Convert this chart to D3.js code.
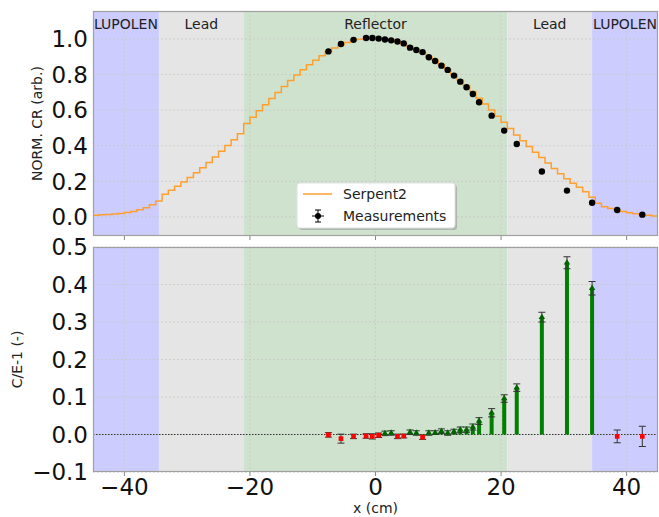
<!DOCTYPE html>
<html>
<head>
<meta charset="utf-8">
<script src="https://cdn.jsdelivr.net/npm/d3@7"></script>
<style>
  body { margin: 0; background: #fff; }
  svg text { font-family: "DejaVu Sans", sans-serif; }
</style>
</head>
<body>
<div id="chart"></div>
<script>
// region spans (cm)
var regions = [
  { name: "LUPOLEN",   x0: -45,   x1: -34.5, color: "#ccccff" },
  { name: "Lead",      x0: -34.5, x1: -21,   color: "#e5e5e5" },
  { name: "Reflector", x0: -21,   x1: 21,    color: "#cfe2cd" },
  { name: "Lead",      x0: 21,    x1: 34.5,  color: "#e5e5e5" },
  { name: "LUPOLEN",   x0: 34.5,  x1: 45,    color: "#ccccff" }
]

// Serpent2 detector bins: left edges (1 cm wide) and values
var binWidth = 1
var serpentEdges = d3.range(-45, 45, binWidth)
var serpentValues = [
  0.010, 0.012, 0.014, 0.016, 0.020, 0.025, 0.031, 0.040, 0.052, 0.068,
  0.090, 0.128, 0.150, 0.173, 0.197, 0.222, 0.248, 0.276, 0.306, 0.337,
  0.369, 0.401, 0.434, 0.467, 0.525, 0.560, 0.596, 0.631, 0.665, 0.699,
  0.733, 0.766, 0.797, 0.827, 0.855, 0.881, 0.905, 0.928, 0.949, 0.966,
  0.980, 0.991, 0.998, 1.002, 1.002, 1.000, 0.998, 0.994, 0.984, 0.972,
  0.957, 0.942, 0.921, 0.901, 0.880, 0.857, 0.830, 0.801, 0.770, 0.738,
  0.705, 0.667, 0.635, 0.601, 0.566, 0.532, 0.497, 0.461, 0.428, 0.396,
  0.364, 0.334, 0.303, 0.272, 0.243, 0.215, 0.190, 0.167, 0.142, 0.111,
  0.077, 0.058, 0.047, 0.039, 0.031, 0.024, 0.018, 0.013, 0.009, 0.006
]

// measurement positions (cm)
var measX = [-7.5, -5.5, -3.5, -1.5, -0.5, 0.5, 1.5, 2.5, 3.5, 4.5,
  5.5, 6.5, 7.5, 8.5, 9.5, 10.5, 11.5, 12.5, 13.5, 14.5,
  15.5, 16.5, 18.5, 20.5, 22.5, 26.5, 30.5, 34.5, 38.5, 42.5]
var measValues = [0.930, 0.972, 0.995, 1.005, 1.005, 1.002, 0.997, 0.992, 0.986, 0.975,
  0.951, 0.938, 0.926, 0.897, 0.876, 0.850, 0.826, 0.794, 0.760, 0.729,
  0.691, 0.644, 0.569, 0.485, 0.410, 0.255, 0.148, 0.080, 0.039, 0.013]
var measXErr = 0.4
var measYErr = 0.012

// C/E - 1 and its uncertainty
var ceValues = [-0.001, -0.011, -0.005, -0.004, -0.005, -0.002, 0.003, 0.004, -0.005, -0.004,
  0.006, 0.004, -0.007, 0.004, 0.005, 0.009, 0.004, 0.008, 0.013, 0.013,
  0.020, 0.036, 0.058, 0.096, 0.125, 0.313, 0.458, 0.390, -0.005, -0.005]
var ceErrors = [0.006, 0.012, 0.006, 0.006, 0.007, 0.006, 0.006, 0.006, 0.006, 0.005,
  0.006, 0.006, 0.006, 0.006, 0.005, 0.006, 0.006, 0.006, 0.007, 0.007,
  0.008, 0.009, 0.011, 0.010, 0.010, 0.013, 0.016, 0.018, 0.017, 0.027]

var xTicks = [-40, -20, 0, 20, 40]
var topTicks = [0.0, 0.2, 0.4, 0.6, 0.8, 1.0]
var bottomTicks = [-0.1, 0.0, 0.1, 0.2, 0.3, 0.4, 0.5]

var width = 659, height = 517
var plotLeft = 93, plotRight = 658

var svg = d3.select("#chart").append("svg")
    .attr("width", width)
    .attr("height", height)

var x = d3.scaleLinear().domain([-45, 45]).range([plotLeft, plotRight])
var yTop = d3.scaleLinear().domain([-0.107, 1.157]).range([236, 11])
var yBot = d3.scaleLinear().domain([-0.1, 0.5]).range([472, 247])

function panel(id, y, ticks, label, labelX) {
  var top = y.range()[1], bottom = y.range()[0]
  var g = svg.append("g")

  svg.append("clipPath").attr("id", id)
    .append("rect")
    .attr("x", plotLeft).attr("y", top)
    .attr("width", plotRight - plotLeft).attr("height", bottom - top)

  // background spans
  g.selectAll(".span")
    .data(regions)
    .enter().append("rect")
    .attr("x", function(d) { return x(d.x0) })
    .attr("width", function(d) { return x(d.x1) - x(d.x0) })
    .attr("y", top)
    .attr("height", bottom - top)
    .attr("fill", function(d) { return d.color })

  // grid
  g.selectAll(".hgrid")
    .data(ticks)
    .enter().append("line")
    .attr("x1", plotLeft).attr("x2", plotRight)
    .attr("y1", function(d) { return y(d) }).attr("y2", function(d) { return y(d) })
    .attr("stroke", "#c8c8c8").attr("stroke-width", 0.8)
    .attr("stroke-dasharray", "2,2")
  g.selectAll(".vgrid")
    .data(xTicks)
    .enter().append("line")
    .attr("x1", function(d) { return x(d) }).attr("x2", function(d) { return x(d) })
    .attr("y1", top).attr("y2", bottom)
    .attr("stroke", "#c8c8c8").attr("stroke-width", 0.8)
    .attr("stroke-dasharray", "2,2")

  // y tick labels
  g.selectAll(".ylab")
    .data(ticks)
    .enter().append("text")
    .attr("x", 88)
    .attr("y", function(d) { return y(d) })
    .attr("dy", "0.36em")
    .attr("text-anchor", "end")
    .attr("font-size", 23)
    .attr("fill", "#111")
    .text(d3.format(".1f"))

  // x tick marks
  g.selectAll(".xtick")
    .data(xTicks)
    .enter().append("line")
    .attr("x1", function(d) { return x(d) }).attr("x2", function(d) { return x(d) })
    .attr("y1", bottom).attr("y2", bottom + 4)
    .attr("stroke", "#888").attr("stroke-width", 1)

  // y axis label
  svg.append("text")
    .attr("transform", "translate(" + labelX + "," + ((top + bottom) / 2) + ") rotate(-90)")
    .attr("text-anchor", "middle")
    .attr("dy", "0.35em")
    .attr("font-size", 14)
    .attr("fill", "#222")
    .text(label)

  return g
}

function frame(y) {
  var top = y.range()[1], bottom = y.range()[0]
  svg.append("rect")
    .attr("x", plotLeft + 0.5).attr("y", top + 0.5)
    .attr("width", plotRight - plotLeft - 1).attr("height", bottom - top - 1)
    .attr("fill", "none")
    .attr("stroke", "#a0a0a0")
    .attr("stroke-width", 1.2)
}

// ---------- top panel ----------
var gTop = panel("clipTop", yTop, topTicks, "NORM. CR (arb.)", 37)

// region names
gTop.selectAll(".rname")
  .data(regions)
  .enter().append("text")
  .attr("x", function(d) { return (x(d.x0) + x(d.x1)) / 2 })
  .attr("y", 29)
  .attr("text-anchor", "middle")
  .attr("font-size", 14)
  .attr("fill", "#222")
  .text(function(d) { return d.name })

var stepPts = serpentEdges.map(function(e, i) { return [e, serpentValues[i]] })
stepPts.push([serpentEdges[serpentEdges.length - 1] + binWidth, serpentValues[serpentValues.length - 1]])

var stepLine = d3.line()
  .x(function(d) { return x(d[0]) })
  .y(function(d) { return yTop(d[1]) })
  .curve(d3.curveStepAfter)

gTop.append("path")
  .datum(stepPts)
  .attr("clip-path", "url(#clipTop)")
  .attr("d", stepLine)
  .attr("fill", "none")
  .attr("stroke", "#ff9f2e")
  .attr("stroke-width", 1.5)

var meas = measX.map(function(d, i) { return { x: d, v: measValues[i], r: ceValues[i], e: ceErrors[i] } })

var mg = gTop.selectAll(".meas")
  .data(meas)
  .enter().append("g")
mg.append("line")
  .attr("x1", function(d) { return x(d.x - measXErr) }).attr("x2", function(d) { return x(d.x + measXErr) })
  .attr("y1", function(d) { return yTop(d.v) }).attr("y2", function(d) { return yTop(d.v) })
  .attr("stroke", "#000").attr("stroke-width", 1)
mg.append("line")
  .attr("x1", function(d) { return x(d.x) }).attr("x2", function(d) { return x(d.x) })
  .attr("y1", function(d) { return yTop(d.v - measYErr) }).attr("y2", function(d) { return yTop(d.v + measYErr) })
  .attr("stroke", "#000").attr("stroke-width", 1)
mg.append("circle")
  .attr("cx", function(d) { return x(d.x) })
  .attr("cy", function(d) { return yTop(d.v) })
  .attr("r", 3.2)
  .attr("fill", "#000")

frame(yTop)

// legend
var lg = svg.append("g").attr("transform", "translate(297,183)")
lg.append("rect").attr("x", 2).attr("y", 2).attr("width", 158).attr("height", 45)
  .attr("rx", 3).attr("fill", "#9a9a9a").attr("opacity", 0.6)
lg.append("rect").attr("width", 158).attr("height", 45)
  .attr("rx", 3).attr("fill", "#fff").attr("stroke", "#e0e0e0")
lg.append("line").attr("x1", 6).attr("x2", 35).attr("y1", 11).attr("y2", 11)
  .attr("stroke", "#ff9f2e").attr("stroke-width", 1.5)
lg.append("text").attr("x", 46).attr("y", 11).attr("dy", "0.35em")
  .attr("font-size", 14).attr("fill", "#222").text("Serpent2")
lg.append("line").attr("x1", 15).attr("x2", 27).attr("y1", 33).attr("y2", 33).attr("stroke", "#000")
lg.append("line").attr("x1", 21).attr("x2", 21).attr("y1", 27).attr("y2", 39).attr("stroke", "#000")
lg.append("line").attr("x1", 18).attr("x2", 24).attr("y1", 27).attr("y2", 27).attr("stroke", "#000")
lg.append("line").attr("x1", 18).attr("x2", 24).attr("y1", 39).attr("y2", 39).attr("stroke", "#000")
lg.append("circle").attr("cx", 21).attr("cy", 33).attr("r", 3).attr("fill", "#000")
lg.append("text").attr("x", 46).attr("y", 33).attr("dy", "0.35em")
  .attr("font-size", 14).attr("fill", "#222").text("Measurements")

// ---------- bottom panel ----------
var gBot = panel("clipBot", yBot, bottomTicks, "C/E-1 (-)", 17)

gBot.append("line")
  .attr("x1", plotLeft).attr("x2", plotRight)
  .attr("y1", yBot(0)).attr("y2", yBot(0))
  .attr("stroke", "#333").attr("stroke-width", 1)
  .attr("stroke-dasharray", "1.5,1.5")

var barW = 4
gBot.selectAll(".bar")
  .data(meas.filter(function(d) { return d.r > 0 }))
  .enter().append("rect")
  .attr("x", function(d) { return x(d.x) - barW / 2 })
  .attr("width", barW)
  .attr("y", function(d) { return yBot(d.r) })
  .attr("height", function(d) { return yBot(0) - yBot(d.r) })
  .attr("fill", "#008000")

var eg = gBot.selectAll(".err")
  .data(meas)
  .enter().append("g")
eg.append("line")
  .attr("x1", function(d) { return x(d.x) }).attr("x2", function(d) { return x(d.x) })
  .attr("y1", function(d) { return yBot(d.r - d.e) }).attr("y2", function(d) { return yBot(d.r + d.e) })
  .attr("stroke", "#333").attr("stroke-width", 1)
eg.append("line")
  .attr("x1", function(d) { return x(d.x) - 3.5 }).attr("x2", function(d) { return x(d.x) + 3.5 })
  .attr("y1", function(d) { return yBot(d.r - d.e) }).attr("y2", function(d) { return yBot(d.r - d.e) })
  .attr("stroke", "#333").attr("stroke-width", 1)
eg.append("line")
  .attr("x1", function(d) { return x(d.x) - 3.5 }).attr("x2", function(d) { return x(d.x) + 3.5 })
  .attr("y1", function(d) { return yBot(d.r + d.e) }).attr("y2", function(d) { return yBot(d.r + d.e) })
  .attr("stroke", "#333").attr("stroke-width", 1)
eg.append("path")
  .attr("transform", function(d) { return "translate(" + x(d.x) + "," + yBot(d.r) + ")" })
  .attr("d", function(d) {
    return d.r < 0 ? d3.symbol(d3.symbolSquare, 22)() : d3.symbol(d3.symbolTriangle, 18)()
  })
  .attr("fill", function(d) { return d.r < 0 ? "#ff0000" : "#006400" })

frame(yBot)

svg.selectAll(".xlab")
  .data(xTicks)
  .enter().append("text")
  .attr("x", function(d) { return x(d) })
  .attr("y", 495)
  .attr("text-anchor", "middle")
  .attr("font-size", 23)
  .attr("fill", "#111")
  .text(d3.format("d"))

svg.append("text")
  .attr("x", x(0))
  .attr("y", 513)
  .attr("text-anchor", "middle")
  .attr("font-size", 14)
  .attr("fill", "#222")
  .text("x (cm)")
</script>
</body>
</html>
